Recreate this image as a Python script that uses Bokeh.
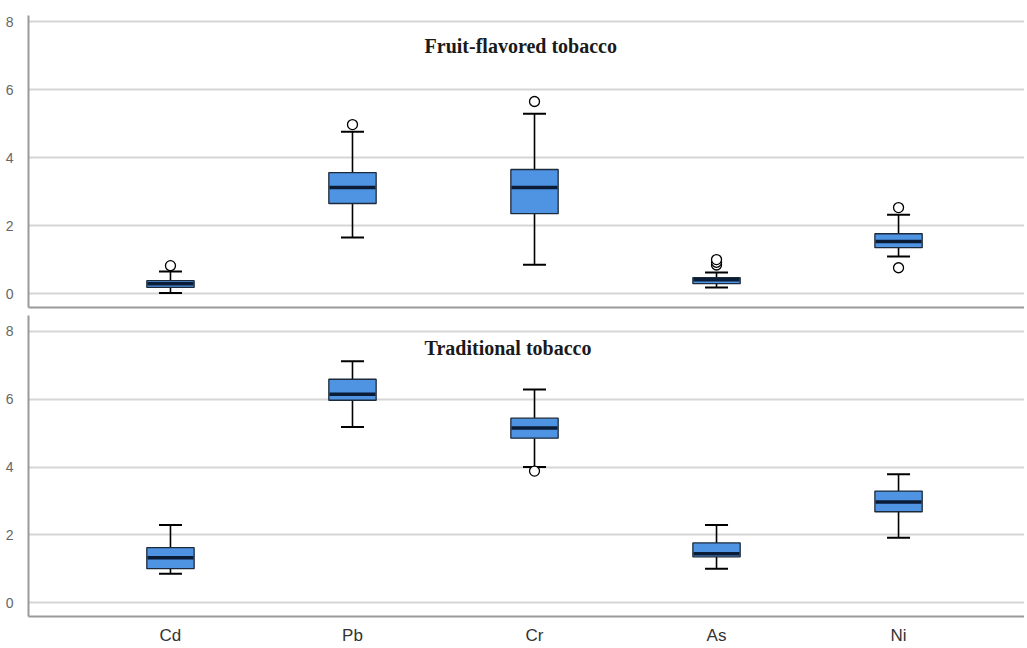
from bokeh.plotting import figure
from bokeh.models import Range1d, FixedTicker, Label
from bokeh.layouts import column
from bokeh.embed import file_html
from bokeh.resources import INLINE

categories = ["Cd", "Pb", "Cr", "As", "Ni"]

fruit_q1 = [0.18, 2.65, 2.35, 0.29, 1.35]
fruit_median = [0.29, 3.12, 3.12, 0.41, 1.53]
fruit_q3 = [0.38, 3.56, 3.65, 0.47, 1.76]
fruit_lower = [0.02, 1.65, 0.85, 0.18, 1.09]
fruit_upper = [0.65, 4.76, 5.29, 0.62, 2.32]
fruit_outlier_cat = ["Cd", "Pb", "Cr", "As", "As", "As", "Ni", "Ni"]
fruit_outlier_val = [0.82, 4.97, 5.65, 0.84, 0.92, 1.0, 2.53, 0.76]

trad_q1 = [1.00, 5.97, 4.85, 1.35, 2.68]
trad_median = [1.32, 6.15, 5.15, 1.44, 2.97]
trad_q3 = [1.62, 6.59, 5.44, 1.76, 3.29]
trad_lower = [0.85, 5.18, 4.00, 1.00, 1.91]
trad_upper = [2.29, 7.12, 6.29, 2.29, 3.79]
trad_outlier_cat = ["Cr"]
trad_outlier_val = [3.88]

y_ticks = [0, 2, 4, 6, 8]

BOX_FILL = "#4f93e3"
BOX_LINE = "#1d2a3a"
MEDIAN = "#0b1c36"
GRID = "#d6d6d6"
AXIS = "#9a9a9a"


def make_panel(title, q1, med, q3, lo, hi, ocat, oval, y_start, y_end,
               height, border_top, border_bottom, show_labels, title_y):
    pos = {c: i + 1 for i, c in enumerate(categories)}
    xs = [pos[c] for c in categories]
    p = figure(width=1024, height=height, output_backend="svg", toolbar_location=None,
               x_range=Range1d(0.22, 5.692), y_range=Range1d(y_start, y_end),
               min_border_left=28, min_border_right=0,
               min_border_top=border_top, min_border_bottom=border_bottom)
    p.outline_line_color = None
    p.background_fill_color = "white"
    p.border_fill_color = "white"

    p.xgrid.grid_line_color = None
    p.ygrid.grid_line_color = GRID
    p.ygrid.grid_line_width = 2
    p.ygrid.ticker = FixedTicker(ticks=y_ticks)

    p.yaxis.ticker = FixedTicker(ticks=y_ticks)
    p.yaxis.axis_line_color = AXIS
    p.yaxis.axis_line_width = 2
    p.yaxis.major_tick_line_color = None
    p.yaxis.minor_tick_line_color = None
    p.yaxis.major_label_standoff = 9
    p.yaxis.major_label_text_color = "#666666"
    p.yaxis.major_label_text_font = "Liberation Sans"
    p.yaxis.major_label_text_font_size = "14px"

    p.xaxis.axis_line_color = AXIS
    p.xaxis.axis_line_width = 2
    p.xaxis.major_tick_line_color = None
    p.xaxis.minor_tick_line_color = None
    if show_labels:
        p.xaxis.ticker = FixedTicker(ticks=xs)
        p.xaxis.major_label_overrides = {x: c for x, c in zip(xs, categories)}
        p.xaxis.major_label_standoff = 3
        p.xaxis.major_label_text_color = "#333333"
        p.xaxis.major_label_text_font = "Liberation Sans"
        p.xaxis.major_label_text_font_size = "17px"
    else:
        p.xaxis.ticker = FixedTicker(ticks=[])
        p.xaxis.major_label_standoff = 0

    # whiskers
    p.segment(x0=xs, y0=lo, x1=xs, y1=q1, line_color="black", line_width=1.6)
    p.segment(x0=xs, y0=q3, x1=xs, y1=hi, line_color="black", line_width=1.6)
    p.scatter(x=xs, y=lo, marker="dash", size=23, line_color="black", line_width=2)
    p.scatter(x=xs, y=hi, marker="dash", size=23, line_color="black", line_width=2)
    # boxes
    p.vbar(x=xs, width=0.26, bottom=q1, top=q3, fill_color=BOX_FILL,
           line_color=BOX_LINE, line_width=1.3)
    p.scatter(x=xs, y=med, marker="dash", size=46, line_color=MEDIAN, line_width=3.5)
    # outliers
    ox = [pos[c] for c in ocat]
    p.scatter(x=ox, y=oval, marker="circle", size=10, fill_color="white",
              line_color="black", line_width=1.3)

    p.add_layout(Label(x=2.396, y=title_y, text=title, text_font="Liberation Serif",
                       text_font_style="bold", text_font_size="20px",
                       text_baseline="middle", text_color="#1a1a1a"))
    return p


top = make_panel("Fruit-flavored tobacco", fruit_q1, fruit_median, fruit_q3,
                 fruit_lower, fruit_upper, fruit_outlier_cat, fruit_outlier_val,
                 -0.41, 8.18, 311, 15, 4, False, 7.29)
bottom = make_panel("Traditional tobacco", trad_q1, trad_median, trad_q3,
                    trad_lower, trad_upper, trad_outlier_cat, trad_outlier_val,
                    -0.41, 8.47, 336, 4, 31, True, 7.5)

layout = column(top, bottom, spacing=0)
open("out.html", "w").write(file_html(layout, INLINE))
